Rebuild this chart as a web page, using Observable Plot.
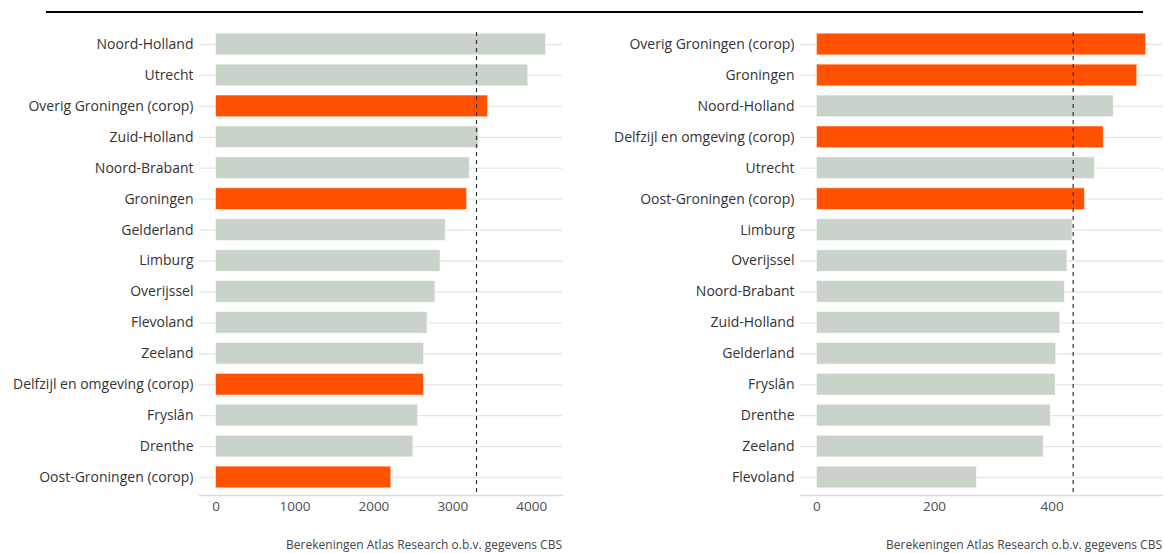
<!DOCTYPE html>
<html>
<head>
<meta charset="utf-8">
<script src="https://cdn.jsdelivr.net/npm/d3@7"></script>
<script src="https://cdn.jsdelivr.net/npm/@observablehq/plot@0.6"></script>
<style>
  html, body { margin: 0; padding: 0; background: #fff; }
  #wrap { position: relative; width: 1164px; height: 553px; font-family: "Open Sans", sans-serif; }
  .topline { position: absolute; left: 46px; top: 11px; width: 1097px; height: 2px; background: #000; }
  .panel { position: absolute; top: 0; }
  .caption { position: absolute; top: 536px; font-size: 12px; color: #444; white-space: nowrap; text-align: right; }
</style>
</head>
<body>
<div id="wrap">
  <div class="topline"></div>
  <div class="panel" id="left" style="left:0px;width:570px"></div>
  <div class="panel" id="right" style="left:580px;width:584px"></div>
  <div class="caption" style="right:602px">Berekeningen Atlas Research o.b.v. gegevens CBS</div>
  <div class="caption" style="right:2px">Berekeningen Atlas Research o.b.v. gegevens CBS</div>
</div>
<script>
const highlighted = ["Overig Groningen (corop)", "Groningen", "Delfzijl en omgeving (corop)", "Oost-Groningen (corop)"];

const leftRegions = ["Noord-Holland", "Utrecht", "Overig Groningen (corop)", "Zuid-Holland", "Noord-Brabant", "Groningen", "Gelderland", "Limburg", "Overijssel", "Flevoland", "Zeeland", "Delfzijl en omgeving (corop)", "Fryslân", "Drenthe", "Oost-Groningen (corop)"];
const leftValues = [4180, 3955, 3445, 3330, 3215, 3180, 2910, 2845, 2780, 2680, 2635, 2635, 2560, 2500, 2220];
const leftRef = 3300;
const leftTicks = [0, 1000, 2000, 3000, 4000];

const rightRegions = ["Overig Groningen (corop)", "Groningen", "Noord-Holland", "Delfzijl en omgeving (corop)", "Utrecht", "Oost-Groningen (corop)", "Limburg", "Overijssel", "Noord-Brabant", "Zuid-Holland", "Gelderland", "Fryslân", "Drenthe", "Zeeland", "Flevoland"];
const rightValues = [560, 545, 505, 488, 473, 456, 435, 426, 422, 414, 407, 406, 398, 386, 272];
const rightRef = 436;
const rightTicks = [0, 200, 400];

const grayFill = "#c9d3ca";
const orangeFill = "#ff5100";

function makeChart(regions, values, ref, ticks, domain, width, marginLeft, marginRight) {
  const data = regions.map((r, i) => ({region: r, value: values[i], fill: highlighted.includes(r) ? orangeFill : grayFill}));
  return Plot.plot({
    width, height: 525,
    marginTop: 25, marginBottom: 30, marginLeft, marginRight,
    style: {fontFamily: "Open Sans", fontSize: "14px", color: "#333", background: "transparent"},
    x: {domain, ticks, tickSize: 0, tickPadding: 6, label: null, tickFormat: d => String(d)},
    y: {domain: regions, range: [33.2, 487.8], round: false, paddingInner: 0.3, paddingOuter: 0, tickSize: 0, tickPadding: 6, label: null},
    color: {type: "identity"},
    marks: [
      Plot.gridY({stroke: "#e6e6e6", strokeOpacity: 1, strokeWidth: 1.3}),
      Plot.frame({anchor: "bottom", stroke: "#dcdcdc", strokeWidth: 1.3}),
      Plot.barX(data, {x: "value", y: "region", fill: "fill", stroke: "#ffffff", strokeOpacity: 0.5, strokeWidth: 1}),
      Plot.ruleX([ref], {stroke: "#333", strokeDasharray: "4,4", strokeWidth: 1.2, insetTop: 7}),
      Plot.axisX({ticks, tickSize: 0, tickPadding: 6, color: "#4d4d4d", label: null, tickFormat: d => String(d), fontSize: "13.5px"}),
      Plot.axisY({tickSize: 0, tickPadding: 6, color: "#333", label: null})
    ]
  });
}

document.getElementById("left").append(makeChart(leftRegions, leftValues, leftRef, leftTicks, [-209, 4389], 570, 199, 8));
document.getElementById("right").append(makeChart(rightRegions, rightValues, rightRef, rightTicks, [-28, 588], 584, 220, 2));
</script>
</body>
</html>
